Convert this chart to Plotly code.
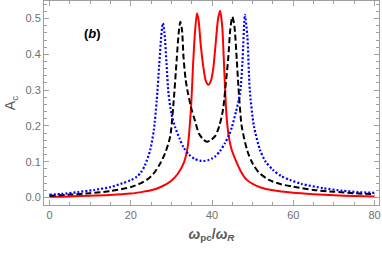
import plotly.graph_objects as go

# ---- data ----
red_x = [0, 5, 10, 15, 20, 22.5, 25, 27.5, 30, 31.5, 33, 34, 34.8, 35.4, 35.8, 36.3, 36.7, 37.2, 37.8,
         38.5, 39.1, 39.7, 40.3, 40.9, 41.5, 42.0, 42.5, 43.0, 43.5, 44.0, 44.8, 45.8, 47, 48.5, 50,
         52, 55, 60, 65, 70, 75, 80]
red_y = [0.002, 0.003, 0.005, 0.007, 0.011, 0.015, 0.020, 0.030, 0.047, 0.065, 0.095, 0.14, 0.245,
         0.384, 0.46, 0.515, 0.495, 0.43, 0.37, 0.325, 0.315, 0.325, 0.36, 0.43, 0.50, 0.522, 0.48,
         0.36, 0.24, 0.18, 0.135, 0.105, 0.075, 0.05, 0.038, 0.028, 0.02, 0.013, 0.009, 0.006, 0.004,
         0.003]

black_x = [0, 5, 10, 15, 20, 22.5, 24, 25.5, 27, 28.5, 29.7, 30.5, 31.3, 31.8, 32.2, 32.6, 33.0, 33.5,
           34.1, 35.0, 35.8, 36.8, 37.8, 38.7, 39.7, 40.8, 41.8, 42.7, 43.5, 44.0, 44.5, 45.0, 45.5,
           46.1, 46.5, 47.3, 48.7, 50.0, 51.5, 54, 57, 60, 65, 70, 75, 80]
black_y = [0.005, 0.008, 0.012, 0.018, 0.029, 0.040, 0.050, 0.065, 0.090, 0.125, 0.17, 0.26, 0.384,
           0.46, 0.491, 0.47, 0.39, 0.33, 0.29, 0.245, 0.215, 0.178, 0.163, 0.156, 0.16, 0.172, 0.20,
           0.245, 0.33, 0.39, 0.47, 0.505, 0.48, 0.384, 0.31, 0.20, 0.13, 0.095, 0.07, 0.049, 0.037,
           0.03, 0.021, 0.016, 0.012, 0.009]

blue_x = [0, 3, 7, 11, 15, 18, 20, 21.5, 22.5, 23.5, 24.8, 25.7, 26.4, 27.0, 27.5, 27.9, 28.3, 28.8,
          29.3, 30.0, 30.9, 32.0, 33.0, 34.3, 35.7, 37.0, 37.9, 39.0, 40.0, 40.8, 42.0, 43.2, 44.2,
          44.9, 45.9, 46.9, 47.5, 48.1, 48.7, 49.3, 50.3, 51.8, 53.2, 55, 57, 59.2, 62, 67.4, 72, 76, 80]
blue_y = [0.008, 0.010, 0.015, 0.021, 0.029, 0.040, 0.048, 0.058, 0.07, 0.09, 0.133, 0.19, 0.272,
          0.37, 0.45, 0.487, 0.46, 0.375, 0.29, 0.235, 0.197, 0.165, 0.14, 0.12, 0.108, 0.103, 0.102,
          0.104, 0.109, 0.115, 0.13, 0.152, 0.175, 0.197, 0.24, 0.29, 0.38, 0.51, 0.45, 0.30, 0.2,
          0.133, 0.1, 0.077, 0.06, 0.049, 0.038, 0.026, 0.019, 0.015, 0.013]

x_ticks = [0, 20, 40, 60, 80]
y_ticks = [0.0, 0.1, 0.2, 0.3, 0.4, 0.5]
y_tick_labels = ["0.0", "0.1", "0.2", "0.3", "0.4", "0.5"]

FONT = "Liberation Sans, Arial, sans-serif"

fig = go.Figure()
fig.add_trace(go.Scatter(x=red_x, y=red_y, mode="lines",
                         line=dict(color="#ff0000", width=2, shape="spline", smoothing=0.7)))
fig.add_trace(go.Scatter(x=black_x, y=black_y, mode="lines",
                         line=dict(color="#000000", width=2, dash="6px,3px", shape="spline", smoothing=0.7)))
fig.add_trace(go.Scatter(x=blue_x, y=blue_y, mode="lines",
                         line=dict(color="#0000ff", width=2.2, dash="2px,2px", shape="spline", smoothing=0.7)))

axis_common = dict(showgrid=False, zeroline=False, showline=True, linecolor="#a0a0a0", linewidth=1,
                   mirror="allticks", ticks="inside", ticklen=5, tickcolor="#a0a0a0", tickwidth=1,
                   automargin=False,
                   tickfont=dict(family=FONT, size=11, color="#707070"))

fig.update_layout(
    width=382, height=254,
    margin=dict(l=44, r=3, t=1, b=49),
    paper_bgcolor="white", plot_bgcolor="white",
    showlegend=False,
    xaxis=dict(range=[-1.35, 81.1], tickvals=x_ticks,
               minor=dict(dtick=5, ticklen=3, ticks="inside", tickcolor="#a0a0a0"),
               title=dict(text="<b><i>ω</i><sub>pc</sub>/<i>ω<sub>R</sub></i></b>",
                          font=dict(family=FONT, size=14, color="#5a5a5a"),
                          standoff=8),
               **axis_common),
    yaxis=dict(range=[-0.021, 0.549], tickvals=y_ticks, ticktext=y_tick_labels,
               minor=dict(dtick=0.02, ticklen=3, ticks="inside", tickcolor="#a0a0a0"),
               title=dict(text="A<sub>c</sub>",
                          font=dict(family=FONT, size=14, color="#5a5a5a"),
                          standoff=6),
               **axis_common),
)

fig.add_annotation(text="<b>(<i>b</i>)</b>", xref="paper", yref="paper", x=0.113, y=0.887,
                   showarrow=False, font=dict(family=FONT, size=13, color="black"))

fig.write_html("out.html", config={"displayModeBar": False},
               post_script="document.body.style.margin='0';document.body.style.padding='0';")
